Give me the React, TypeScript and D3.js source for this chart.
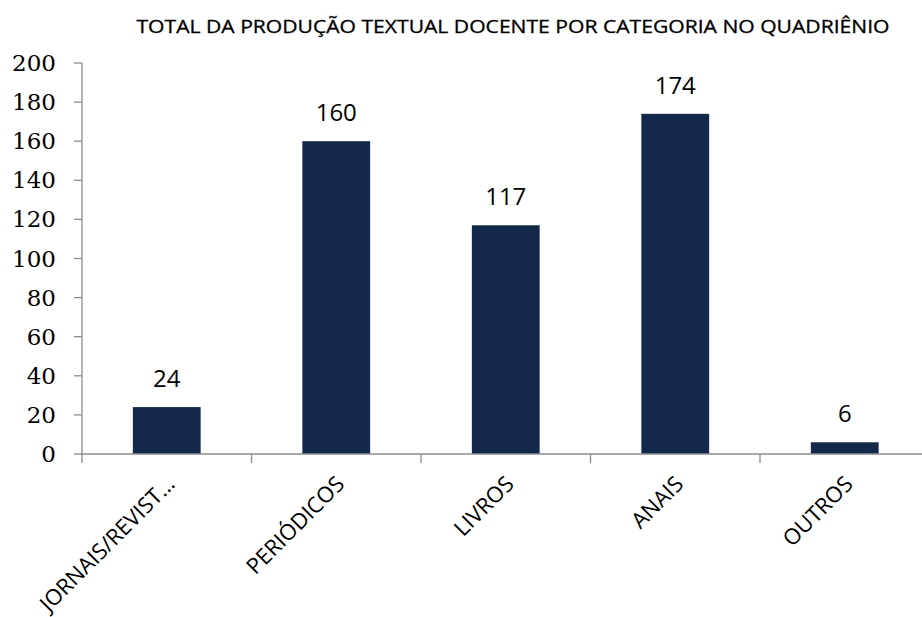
import React from "react";
import * as d3 from "d3";

const categories = ["JORNAIS/REVIST...", "PERIÓDICOS", "LIVROS", "ANAIS", "OUTROS"];
const values = [24, 160, 117, 174, 6];
const yTicks = [0, 20, 40, 60, 80, 100, 120, 140, 160, 180, 200];
const title = "TOTAL DA PRODUÇÃO TEXTUAL DOCENTE POR CATEGORIA NO QUADRIÊNIO";

const W = 922;
const H = 617;
const x0 = 82;
const step = 169.5;

export default function App() {
  const x = d3
    .scaleBand<string>()
    .domain(categories)
    .range([x0, x0 + step * categories.length])
    .paddingInner(0.6)
    .paddingOuter(0.3);
  const y = d3.scaleLinear().domain([0, 200]).range([454, 63]);
  const st = x.step();
  const axisColor = "#8c8c8c";
  const sans = "Open Sans";

  return (
    <div style={{ position: "fixed", left: 0, top: 0, width: W, height: H, background: "#fff" }}>
      <svg width={W} height={H} viewBox={`0 0 ${W} ${H}`} style={{ display: "block" }}>
        <rect x={0} y={0} width={W} height={H} fill="#fff" />
        <text
          x={513}
          y={33}
          textAnchor="middle"
          fontFamily={sans}
          fontSize={18}
          fill="#000"
          stroke="#000"
          strokeWidth={0.3}
          textLength={753}
          lengthAdjust="spacingAndGlyphs"
        >
          {title}
        </text>

        {/* y axis */}
        <line x1={x0} x2={x0} y1={y(200)} y2={y(0)} stroke={axisColor} strokeWidth={1.3} />
        {yTicks.map((t) => (
          <g key={t}>
            <line x1={x0 - 8} x2={x0} y1={y(t)} y2={y(t)} stroke={axisColor} strokeWidth={1.3} />
            <text
              x={56}
              y={y(t)}
              dy="0.35em"
              textAnchor="end"
              fontFamily="DejaVu Serif"
              fontSize={23}
              fill="#000"
            >
              {t}
            </text>
          </g>
        ))}

        {/* bars */}
        {categories.map((c, i) => (
          <rect
            key={c}
            x={x(c)}
            y={y(values[i])}
            width={x.bandwidth()}
            height={y(0) - y(values[i])}
            fill="#13284a"
          />
        ))}

        {/* value labels */}
        {categories.map((c, i) => (
          <text
            key={c}
            x={(x(c) as number) + x.bandwidth() / 2}
            y={y(values[i]) - 20}
            textAnchor="middle"
            fontFamily={sans}
            fontSize={24}
            fill="#000"
          >
            {values[i]}
          </text>
        ))}

        {/* x axis */}
        <line x1={x0} x2={W} y1={y(0)} y2={y(0)} stroke={axisColor} strokeWidth={1.3} />
        {categories.map((c, i) => (
          <line
            key={c}
            x1={x0 + i * st}
            x2={x0 + i * st}
            y1={y(0)}
            y2={y(0) + 9}
            stroke={axisColor}
            strokeWidth={1.3}
          />
        ))}
        {categories.map((c) => {
          const cx = (x(c) as number) + x.bandwidth() / 2;
          return (
            <text
              key={c}
              transform={`translate(${cx + 4},${y(0) + 26}) rotate(-45)`}
              textAnchor="end"
              dy="0.35em"
              fontFamily={sans}
              fontSize={22}
              fill="#000"
            >
              {c}
            </text>
          );
        })}
      </svg>
    </div>
  );
}
